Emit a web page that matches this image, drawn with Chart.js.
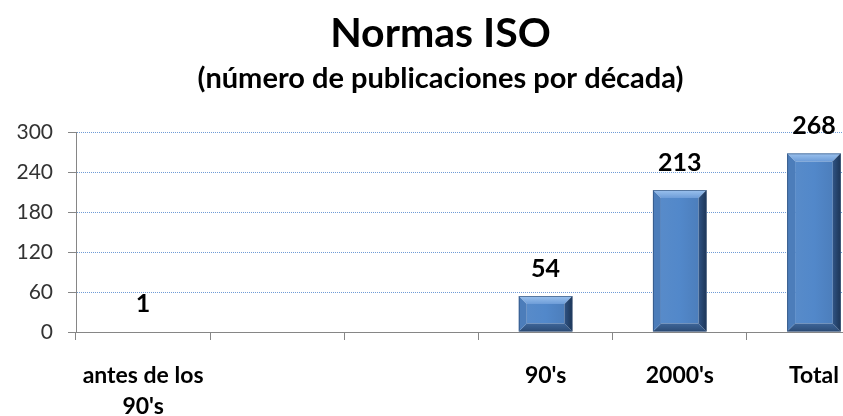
<!DOCTYPE html>
<html>
<head>
<meta charset="utf-8">
<script src="https://cdn.jsdelivr.net/npm/chart.js@4.4.1/dist/chart.umd.min.js"></script>
<style>
  html, body { margin: 0; padding: 0; background: #fff; overflow: hidden; }
  #wrap { width: 900px; height: 416px; }
</style>
</head>
<body>
<div id="wrap"><canvas id="isoChart" width="900" height="416"></canvas></div>
<script>
// ---------------- Data ----------------
const CATEGORIES = [["antes de los", "90's"], "", "", "90's", "2000's", "Total"];
const PUBLICATIONS = [1, null, null, 54, 213, 268];
const Y_MIN = 0;
const Y_MAX = 300;
const Y_STEP = 60;

const TITLE = "Normas ISO";
const SUBTITLE = "(número de publicaciones por década)";

// ---------------- Helpers ----------------
const GRID_BLUE = "#6F9BD6";
const AXIS_GRAY = "#868686";
const FONT = "Lato, 'Open Sans', sans-serif";

// bars drawn with a bevel, like the office 3d bar look
const bevelPlugin = {
  id: "bevel",
  afterDatasetsDraw(chart) {
    const ctx = chart.ctx;
    chart.getDatasetMeta(0).data.forEach(bar => {
      const { x, y, width, base } = bar.getProps(["x", "y", "width", "base"], true);
      if (y == null || isNaN(y)) return;
      const h = base - y;
      if (h < 2) return;
      const l = x - width / 2, r = x + width / 2, t = y, b = base;
      const bv = Math.min(8, h / 2, width / 2);

      const face = (pts, fill) => {
        ctx.beginPath();
        ctx.moveTo(pts[0][0], pts[0][1]);
        pts.slice(1).forEach(p => ctx.lineTo(p[0], p[1]));
        ctx.closePath();
        ctx.fillStyle = fill;
        ctx.fill();
      };

      ctx.save();
      // centre face
      const g = ctx.createLinearGradient(l, 0, r, 0);
      g.addColorStop(0, "#5A8CC9");
      g.addColorStop(0.5, "#5288CA");
      g.addColorStop(1, "#4A7AB6");
      ctx.fillStyle = g;
      ctx.fillRect(l + bv, t + bv, width - 2 * bv, h - 2 * bv);
      // top
      const gt = ctx.createLinearGradient(0, t, 0, t + bv);
      gt.addColorStop(0, "#9CC2EE");
      gt.addColorStop(1, "#6E9DD8");
      face([[l, t], [r, t], [r - bv, t + bv], [l + bv, t + bv]], gt);
      // bottom
      const gb = ctx.createLinearGradient(0, b - bv, 0, b);
      gb.addColorStop(0, "#3E6598");
      gb.addColorStop(1, "#2B4C77");
      face([[l, b], [r, b], [r - bv, b - bv], [l + bv, b - bv]], gb);
      // left
      face([[l, t], [l + bv, t + bv], [l + bv, b - bv], [l, b]], "#4C7DBA");
      // right
      const gr = ctx.createLinearGradient(r - bv, 0, r, 0);
      gr.addColorStop(0, "#2F5384");
      gr.addColorStop(1, "#1C3556");
      face([[r, t], [r - bv, t + bv], [r - bv, b - bv], [r, b]], gr);
      // outline
      ctx.strokeStyle = "rgba(40,70,110,0.6)";
      ctx.lineWidth = 1;
      ctx.strokeRect(l + 0.5, t + 0.5, width - 1, h - 1);
      ctx.restore();
    });
  }
};

// value labels above each bar
const valueLabelPlugin = {
  id: "valueLabels",
  afterDatasetsDraw(chart) {
    const ctx = chart.ctx;
    const meta = chart.getDatasetMeta(0);
    ctx.save();
    ctx.font = "bold 25px " + FONT;
    ctx.fillStyle = "#000";
    ctx.textAlign = "center";
    ctx.textBaseline = "alphabetic";
    meta.data.forEach((bar, i) => {
      const v = PUBLICATIONS[i];
      if (v == null) return;
      const { x, y } = bar.getProps(["x", "y"], true);
      ctx.fillText(String(v), x, y - 19);
    });
    ctx.restore();
  }
};

// ---------------- Chart ----------------
new Chart(document.getElementById("isoChart"), {
  type: "bar",
  data: {
    labels: CATEGORIES,
    datasets: [{
      label: "Normas ISO",
      data: PUBLICATIONS,
      backgroundColor: "rgba(0,0,0,0)",
      borderWidth: 0,
      barPercentage: 0.4,
      categoryPercentage: 1.0
    }]
  },
  options: {
    responsive: false,
    animation: false,
    layout: { padding: { left: 0, right: 19, top: 0, bottom: 0 } },
    plugins: {
      legend: { display: false },
      tooltip: { enabled: false },
      title: {
        display: true,
        text: TITLE,
        color: "#000",
        font: { family: FONT, size: 41, weight: "bold", lineHeight: 1.2 },
        padding: { top: 9, bottom: 0 }
      },
      subtitle: {
        display: true,
        text: SUBTITLE,
        color: "#000",
        font: { family: FONT, size: 29, weight: "bold", lineHeight: 1.2 },
        padding: { top: 3, bottom: 36 }
      }
    },
    scales: {
      x: {
        grid: {
          offset: true,
          drawOnChartArea: false,
          drawTicks: true,
          tickLength: 8,
          tickColor: AXIS_GRAY
        },
        border: { display: true, color: AXIS_GRAY, width: 1 },
        ticks: {
          color: "#000",
          font: { family: FONT, size: 23, weight: "bold", lineHeight: 1.35 },
          padding: 20,
          maxRotation: 0,
          autoSkip: false
        },
        afterFit(scale) { scale.height = 84; }
      },
      y: {
        min: Y_MIN,
        max: Y_MAX,
        grid: {
          color: ctx => (ctx.tick && ctx.tick.value === 0) ? AXIS_GRAY : GRID_BLUE,
          lineWidth: 1,
          tickLength: 8,
          tickColor: AXIS_GRAY,
          tickBorderDash: []
        },
        border: { display: true, color: AXIS_GRAY, width: 1, dash: [1, 1] },
        ticks: {
          stepSize: Y_STEP,
          color: "#333",
          font: { family: FONT, size: 21 },
          padding: 15
        },
        afterFit(scale) { scale.width = 76; }
      }
    }
  },
  plugins: [bevelPlugin, valueLabelPlugin]
});
</script>
</body>
</html>
